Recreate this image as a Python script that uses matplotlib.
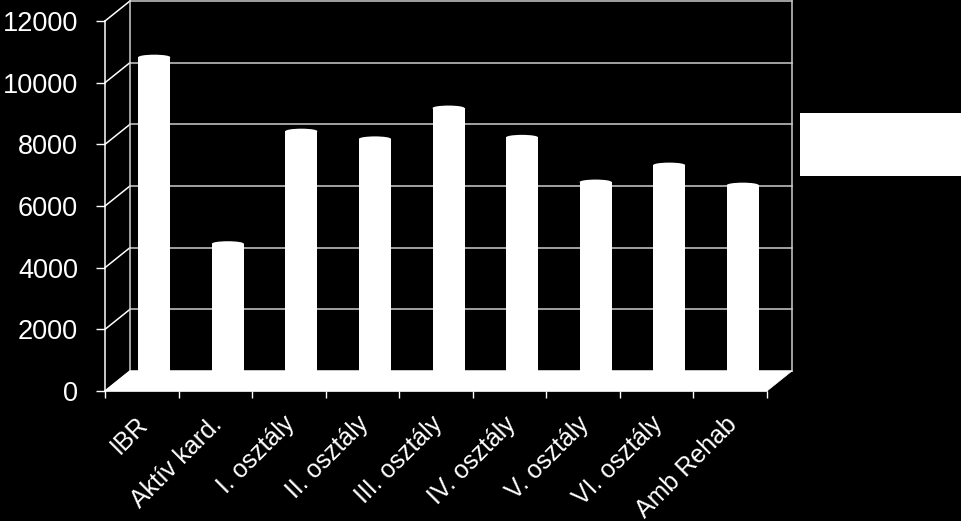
import matplotlib
matplotlib.use('Agg')
import matplotlib.pyplot as plt
from matplotlib.patches import Rectangle, Ellipse, Polygon

plt.rcParams['font.family'] = ['Liberation Sans', 'DejaVu Sans']

# --- DATOS ---
kategoriak = ['IBR', 'Aktív kard.', 'I. osztály', 'II. osztály', 'III. osztály',
              'IV. osztály', 'V. osztály', 'VI. osztály', 'Amb Rehab']
ertekek = [10500, 4450, 8100, 7850, 8850, 7900, 6450, 7000, 6350]
y_ticks = [0, 2000, 4000, 6000, 8000, 10000, 12000]

# 3D "mélység" eltolás (kategória egység, érték egység)
DX = 0.34
DY = 650
BAR_W = 0.435
ELL_H = 165
GRID_C = '#cccccc'

fig = plt.figure(figsize=(9.61, 5.21), dpi=100)
fig.patch.set_facecolor('black')
ax = fig.add_axes([105/961, 130/521, 662/961, 370/521])
ax.set_facecolor('none')
n = len(kategoriak)
x0, x1 = -0.5, n - 0.5
ax.set_xlim(x0, x1)
ax.set_ylim(0, 12000)

# hátsó fal: rácsvonalak
for v in y_ticks:
    ax.plot([x0 + DX, x1 + DX], [v + DY, v + DY], color=GRID_C, lw=1.1,
            clip_on=False, zorder=1)
    # bal oldali fal átlói
    ax.plot([x0, x0 + DX], [v, v + DY], color='white', lw=1.1,
            clip_on=False, zorder=1)
ax.plot([x0 + DX, x0 + DX], [DY, 12000 + DY], color=GRID_C, lw=1.1, clip_on=False, zorder=1)
ax.plot([x1 + DX, x1 + DX], [DY, 12000 + DY], color=GRID_C, lw=1.1, clip_on=False, zorder=1)

# hengerek
for i, v in enumerate(ertekek):
    cx = i + DX / 2
    ax.add_patch(Rectangle((cx - BAR_W / 2, DY / 2), BAR_W, v, facecolor='white',
                           edgecolor='none', clip_on=False, zorder=3))
    ax.add_patch(Ellipse((cx, v + DY / 2), BAR_W, ELL_H, facecolor='white',
                         edgecolor='none', clip_on=False, zorder=3))

# padló
ax.add_patch(Polygon([(x0, 0), (x1, 0), (x1 + DX, DY), (x0 + DX, DY)],
                     closed=True, facecolor='white', edgecolor='white', lw=0.5,
                     clip_on=False, zorder=4))

# tengelyek
for s in ['top', 'right']:
    ax.spines[s].set_visible(False)
ax.spines['left'].set_color('white')
ax.spines['bottom'].set_color('white')
ax.spines['left'].set_linewidth(1.1)
ax.spines['bottom'].set_linewidth(1.1)
ax.spines['left'].set_zorder(5)

ax.set_yticks(y_ticks)
ax.set_yticklabels([str(v) for v in y_ticks])
ax.tick_params(axis='y', colors='white', length=6.5, width=1, pad=13, labelsize=19.5)

ax.set_xticks([i - 0.5 for i in range(n + 1)])
ax.set_xticklabels([])
ax.tick_params(axis='x', colors='white', length=5, width=1)

for i, lab in enumerate(kategoriak):
    ax.annotate(lab, xy=(i, 0), xytext=(8, -15), textcoords='offset points',
                rotation=45, ha='right', va='top', color='white', fontsize=18,
                annotation_clip=False)

# üres jelmagyarázat doboz
fig.add_artist(Rectangle((800/961, (521-176)/521), 161/961, 63/521,
                         transform=fig.transFigure, facecolor='white', edgecolor='none'))

fig.savefig('out.png', dpi=100, facecolor='black')
